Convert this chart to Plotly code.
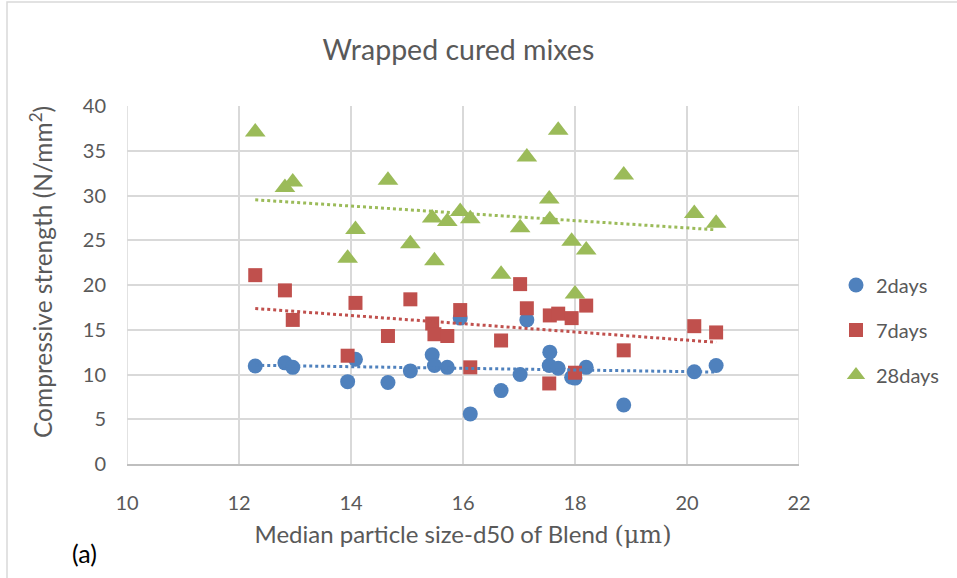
import numpy as np
import plotly.graph_objects as go

# Data
d50 = [12.29, 12.82, 12.96, 13.94, 14.08, 14.66, 15.06, 15.45, 15.49, 15.72, 15.95, 16.13,
       16.68, 17.02, 17.14, 17.54, 17.55, 17.70, 17.94, 18.00, 18.20, 18.87, 20.13, 20.52]
days2 = [10.95, 11.3, 10.8, 9.2, 11.7, 9.1, 10.4, 12.2, 11.0, 10.8, 16.3, 5.6,
         8.2, 10.0, 16.1, 11.0, 12.5, 10.7, 9.7, 9.6, 10.8, 6.6, 10.3, 11.0]
days7 = [21.1, 19.4, 16.1, 12.1, 18.0, 14.3, 18.4, 15.7, 14.5, 14.3, 17.2, 10.8,
         13.8, 20.1, 17.4, 9.0, 16.6, 16.8, 16.3, 10.2, 17.7, 12.7, 15.4, 14.7]
days28 = [37.1, 30.9, 31.5, 23.0, 26.2, 31.7, 24.6, 27.5, 22.7, 27.1, 28.2, 27.4,
          21.2, 26.4, 34.3, 29.6, 27.3, 37.3, 24.9, 19.0, 23.9, 32.3, 28.0, 26.9]

series_names = ["2days", "7days", "28days"]
series_values = [days2, days7, days28]
colors = ["#4F81BD", "#C0504D", "#9BBB59"]
symbols = ["circle", "square", "triangle-up"]
sizes = [15, 14, 18]

FONT = "Lato, 'Open Sans', sans-serif"
GREY = "#595959"

fig = go.Figure()

x = np.array(d50)
for name, vals, c, sym, sz in zip(series_names, series_values, colors, symbols, sizes):
    fig.add_trace(go.Scatter(
        x=d50, y=vals, mode="markers", name=name, legendgroup=name,
        marker=dict(color=c, symbol=sym, size=sz, line=dict(width=0)),
    ))

# Linear trendlines (least squares), dotted
for name, vals, c in zip(series_names, series_values, colors):
    m, b = np.polyfit(x, np.array(vals), 1)
    xs = [x.min(), x.max()]
    fig.add_trace(go.Scatter(
        x=xs, y=[m * xs[0] + b, m * xs[1] + b], mode="lines", showlegend=False,
        line=dict(color=c, width=3, dash="dot"), hoverinfo="skip",
    ))

L, R, T, B = 127, 158, 106, 114
W, H = 957, 578
pw, ph = W - L - R, H - T - B

def px(xp):
    return (xp - L) / pw

def py(yp):
    return (H - B - yp) / ph

fig.update_layout(
    width=W, height=H,
    margin=dict(l=L, r=R, t=T, b=B),
    paper_bgcolor="white", plot_bgcolor="white",
    font=dict(family=FONT, color=GREY, size=18),
    title=dict(text="Wrapped cured mixes", x=0.479, xanchor="center", y=0.913, yanchor="middle",
               font=dict(size=28.5, color=GREY, family=FONT)),
    showlegend=True,
    legend=dict(x=px(836), xanchor="left", y=py(330), yanchor="middle", xref="paper",
                font=dict(size=20, color=GREY), tracegroupgap=16, itemwidth=30,
                bgcolor="rgba(0,0,0,0)"),
    xaxis=dict(range=[10, 22], dtick=2, tick0=10, showgrid=True, gridcolor="#D9D9D9", gridwidth=1.5,
               zeroline=False, showline=True, linecolor="#BFBFBF", linewidth=1.5, ticks="",
               tickfont=dict(size=20, color=GREY), ticklabelstandoff=20,
               title=dict(text="Median particle size-d50 of Blend <span style='font-family:DejaVu Serif,serif'>(μm)</span>",
                          font=dict(size=24, color=GREY), standoff=13)),
    yaxis=dict(range=[0, 40], dtick=5, tick0=0, showgrid=True, gridcolor="#D9D9D9", gridwidth=1.5,
               zeroline=False, showline=False, ticks="",
               tickfont=dict(size=20, color=GREY), ticklabelstandoff=20),
    shapes=[dict(type="rect", xref="paper", yref="paper", x0=px(7), x1=1.3, y0=-0.4, y1=py(2),
                 line=dict(color="#D9D9D9", width=1.5), fillcolor="rgba(0,0,0,0)", layer="below"),
            dict(type="line", xref="x", yref="paper", x0=10, x1=10, y0=0, y1=1,
                 line=dict(color="#D9D9D9", width=1.5)),
            dict(type="line", xref="x", yref="paper", x0=22, x1=22, y0=0, y1=1,
                 line=dict(color="#D9D9D9", width=1.5))],
    annotations=[dict(text="(a)", x=px(84), y=py(553), xref="paper", yref="paper", showarrow=False,
                      xanchor="center", yanchor="middle",
                      font=dict(size=25, color="black")),
                 dict(text="Compressive strength (N/mm<sup>2</sup>)", x=px(41), y=py(272),
                      xref="paper", yref="paper", showarrow=False, textangle=-90,
                      xanchor="center", yanchor="middle",
                      font=dict(size=24.5, color=GREY))],
)

fig.write_html("out.html")
